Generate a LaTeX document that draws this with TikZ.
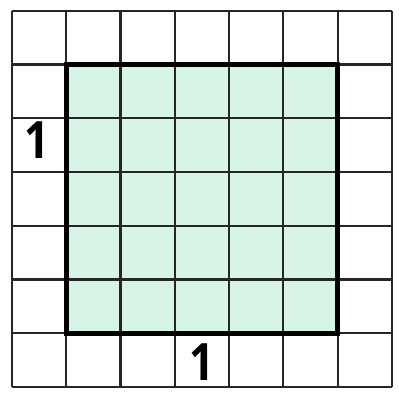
\documentclass[tikz,border=0pt]{standalone}
\usepackage{fontspec}
\usepackage{xcolor}
\usepackage{tikz}
\usetikzlibrary{positioning,calc}
\newfontfamily\labelfont{Open Sans}
\definecolor{mint}{RGB}{214,245,231}

\begin{document}
\begin{tikzpicture}[x=1cm,y=0.99cm,
    gridline/.style={line width=1.1pt, black!85},
    unitlabel/.style={font=\labelfont\bfseries\fontsize{27}{27}\selectfont, inner sep=0pt, xscale=0.85}]
    \useasboundingbox (-0.22,-0.17) rectangle (7.13,7.2);

    % Unit square (shaded)
    \fill[mint] (1,1) rectangle (6,6);

    % Grid
    \foreach \i in {0,...,7} {
        \draw[gridline] (\i,0) -- (\i,7);
        \draw[gridline] (0,\i) -- (7,\i);
    }
    \draw[line width=2.6pt, line join=miter] (1,1) rectangle (6,6);

    % Labels
    \node[unitlabel] (left) at (0.46,4.6) {1};
    \node[unitlabel] (bottom) at (3.5,0.47) {1};
\end{tikzpicture}
\end{document}
